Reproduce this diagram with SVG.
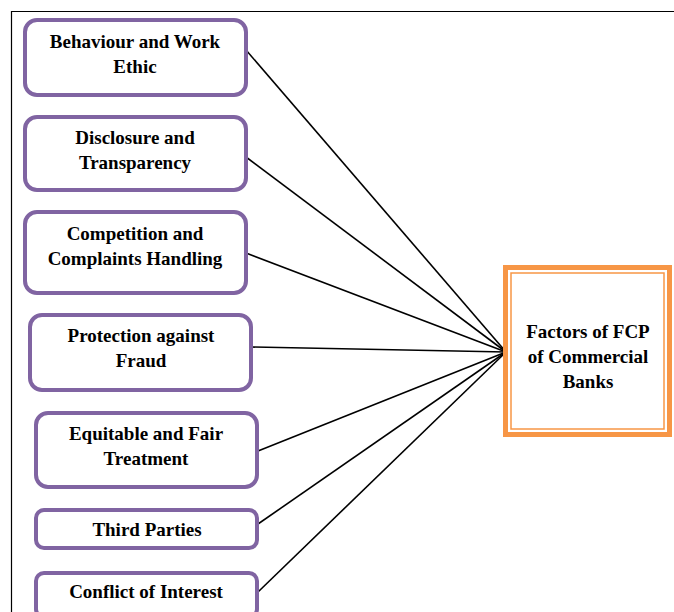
<svg xmlns="http://www.w3.org/2000/svg" width="674" height="612" viewBox="0 0 674 612">
<style>
.n{fill:#fff;stroke:#8064A2;stroke-width:4}
.t{font-family:"Liberation Serif","Times New Roman",serif;font-weight:bold;font-size:19px;fill:#000;text-anchor:middle}
.c{stroke:#000;stroke-width:1.6;fill:none}
</style>
<rect width="674" height="612" fill="#fff"/>
<path d="M11.5 612V11.5H674" fill="none" stroke="#000" stroke-width="1.2"/>
<g id="connectors">
<line class="c" x1="246" y1="50" x2="506" y2="352"/>
<line class="c" x1="246" y1="157" x2="506" y2="352"/>
<line class="c" x1="246" y1="253" x2="506" y2="352"/>
<line class="c" x1="251" y1="347" x2="506" y2="352"/>
<line class="c" x1="258" y1="451" x2="506" y2="352"/>
<line class="c" x1="258" y1="524" x2="506" y2="352"/>
<line class="c" x1="258" y1="592" x2="506" y2="352"/>
</g>
<g id="n1"><rect class="n" x="25" y="20" width="221" height="75" rx="12"/><text class="t" x="135" y="48">Behaviour and Work</text><text class="t" x="135" y="73">Ethic</text></g>
<g id="n2"><rect class="n" x="25" y="117" width="221" height="73" rx="12"/><text class="t" x="135" y="144">Disclosure and</text><text class="t" x="135" y="169">Transparency</text></g>
<g id="n3"><rect class="n" x="25" y="212" width="221" height="81" rx="12"/><text class="t" x="135" y="240">Competition and</text><text class="t" x="135" y="265">Complaints Handling</text></g>
<g id="n4"><rect class="n" x="30" y="315" width="221" height="75" rx="12"/><text class="t" x="141" y="342">Protection against</text><text class="t" x="141" y="367">Fraud</text></g>
<g id="n5"><rect class="n" x="36" y="413" width="221" height="74" rx="12"/><text class="t" x="146" y="440">Equitable and Fair</text><text class="t" x="146" y="465">Treatment</text></g>
<g id="n6"><rect class="n" x="36" y="510" width="221" height="38" rx="8"/><text class="t" x="147" y="536">Third Parties</text></g>
<g id="n7"><rect class="n" x="36" y="573" width="221" height="44" rx="8"/><text class="t" x="146" y="598">Conflict of Interest</text></g>
<g id="target"><rect x="505.5" y="267.5" width="164" height="167" fill="#fff" stroke="#F79646" stroke-width="5"/><rect x="511" y="273" width="153" height="156" fill="none" stroke="#F79646" stroke-width="1.5"/><text class="t" x="588" y="338">Factors of FCP</text><text class="t" x="588" y="363">of Commercial</text><text class="t" x="588" y="388">Banks</text></g>
</svg>
